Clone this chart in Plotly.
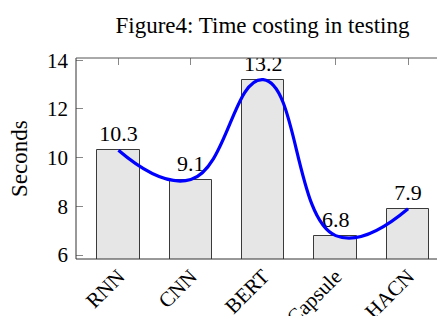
import plotly.graph_objects as go

categories = ["RNN", "CNN", "BERT", "Capsule", "HACN"]
seconds = [10.3, 9.1, 13.2, 6.8, 7.9]
value_labels = ["10.3", "9.1", "13.2", "6.8", "7.9"]
y_ticks = [6, 8, 10, 12, 14]
title_text = "Figure4: Time costing in testing"
y_title = "Seconds"

SERIF = "Liberation Serif"
W, H = 437, 308
PL, PT, PB = 67.5, 50, 57

fig = go.Figure()
fig.add_trace(go.Bar(
    x=categories, y=seconds, width=0.586,
    marker=dict(color="#e6e6e6", line=dict(color="#3a3a3a", width=1)),
    showlegend=False, hoverinfo="skip",
))
fig.add_trace(go.Scatter(
    x=categories, y=seconds, mode="markers+text", text=value_labels,
    textposition="top center",
    marker=dict(size=4, opacity=0),
    textfont=dict(family=SERIF, size=22, color="black"),
    showlegend=False, hoverinfo="skip",
))
fig.add_trace(go.Scatter(
    x=categories, y=seconds, mode="lines",
    line=dict(color="#0000ff", width=3.2, shape="spline", smoothing=1.3),
    showlegend=False, hoverinfo="skip",
))

fig.update_layout(
    width=W, height=H,
    margin=dict(l=PL, r=0, t=PT, b=PB, autoexpand=False),
    paper_bgcolor="white", plot_bgcolor="white",
    font=dict(family=SERIF, color="black"),
    title=dict(text=title_text, font=dict(family=SERIF, size=23, color="black"),
               x=254.5 / W, xref="container", xanchor="center",
               y=1 - 17 / H, yref="container", yanchor="middle"),
    bargap=0,
    shapes=[
        dict(type="line", xref="paper", yref="paper", x0=0, x1=0, y0=0, y1=1,
             line=dict(color="#333", width=1)),
        dict(type="line", xref="paper", yref="paper", x0=0, x1=1, y0=1, y1=1,
             line=dict(color="#555", width=1)),
        dict(type="line", xref="paper", yref="paper", x0=0, x1=1, y0=0, y1=0,
             line=dict(color="#333", width=1)),
    ],
    annotations=[
        dict(text=y_title, xref="paper", yref="paper", x=(11 - PL) / (W - PL), y=0.5,
             textangle=-90, showarrow=False, xanchor="center", yanchor="middle",
             font=dict(family=SERIF, size=23, color="black")),
    ],
)

fig.update_xaxes(
    type="category", categoryorder="array", categoryarray=categories,
    range=[-0.586, 4.51], automargin=False,
    showline=False, mirror="ticks", ticks="inside", ticklen=7, tickcolor="#888",
    tickwidth=1, tickangle=-45, showgrid=False, zeroline=False,
    tickfont=dict(family=SERIF, size=21, color="black"), layer="below traces",
)
fig.update_yaxes(
    range=[5.84, 14.09], tickvals=y_ticks, ticktext=[str(v) for v in y_ticks],
    automargin=False, ticklabelstandoff=7,
    showline=False, mirror="ticks", ticks="inside", ticklen=7, tickcolor="#888",
    tickwidth=1, showgrid=False, zeroline=False,
    tickfont=dict(family=SERIF, size=21, color="black"), layer="below traces",
)

fig.write_html("out.html")
